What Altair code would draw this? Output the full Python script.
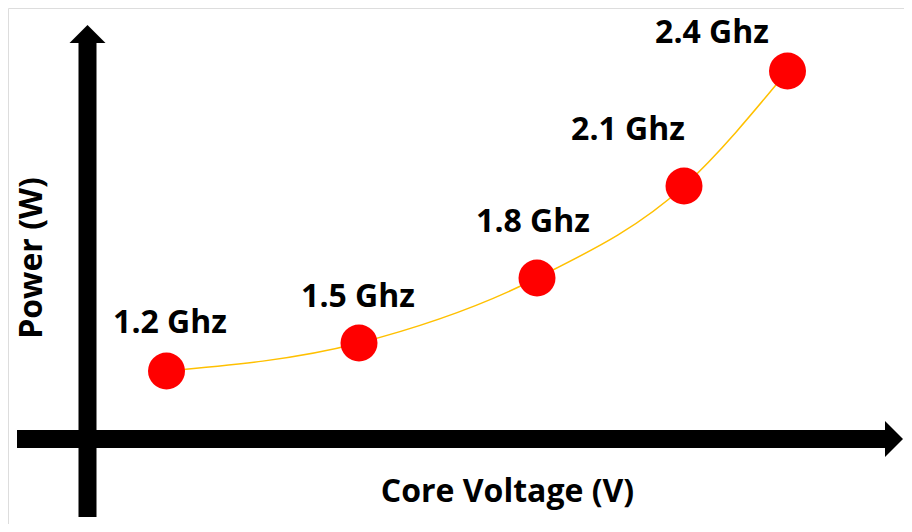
import altair as alt
import pandas as pd

# data (arbitrary units; origin at axis crossing)
voltage = [0.79, 2.715, 4.495, 5.965, 7.0]
power = [0.68, 0.96, 1.61, 2.53, 3.68]
freq_labels = ["1.2 Ghz", "1.5 Ghz", "1.8 Ghz", "2.1 Ghz", "2.4 Ghz"]
label_v = [0.825, 2.705, 4.455, 5.405, 6.245]
label_p = [1.06, 1.32, 2.07, 2.99, 3.96]

x_title = "Core Voltage (V)"
y_title = "Power (W)"

X_DOMAIN = [-0.795, 8.165]
Y_DOMAIN = [-0.85, 4.31]

pts = pd.DataFrame({"v": voltage, "p": power})
lbl = pd.DataFrame({"v": label_v, "p": label_p, "t": freq_labels})

xs = alt.Scale(domain=X_DOMAIN, nice=False, zero=False)
ys = alt.Scale(domain=Y_DOMAIN, nice=False, zero=False)
X = lambda f: alt.X(f, type="quantitative", scale=xs, axis=None)
Y = lambda f: alt.Y(f, type="quantitative", scale=ys, axis=None)

FONT = "Open Sans"
FS = 32

# axes shafts
vshaft = alt.Chart(pd.DataFrame({"v": [0], "p": [-0.78], "p2": [3.965]})).mark_rule(
    color="black", strokeWidth=18).encode(x=X("v"), y=Y("p"), y2="p2")
hshaft = alt.Chart(pd.DataFrame({"v": [-0.705], "v2": [7.99], "p": [0]})).mark_rule(
    color="black", strokeWidth=18).encode(x=X("v"), x2="v2", y=Y("p"))

up_head = alt.Chart(pd.DataFrame({"v": [0], "p": [4.05]})).mark_point(
    shape="M-1,0.5L0,-0.5L1,0.5Z", size=1296, filled=True, color="black", opacity=1
).encode(x=X("v"), y=Y("p"))
right_head = alt.Chart(pd.DataFrame({"v": [8.065], "p": [0]})).mark_point(
    shape="M-0.5,-1L0.5,0L-0.5,1Z", size=1296, filled=True, color="black", opacity=1
).encode(x=X("v"), y=Y("p"))

curve = alt.Chart(pts).mark_line(color="#FFC000", strokeWidth=1.5, interpolate="monotone").encode(
    x=X("v"), y=Y("p"))
dots = alt.Chart(pts).mark_point(shape="circle", size=1369, filled=True, color="#FF0000", opacity=1).encode(
    x=X("v"), y=Y("p"))

labels = alt.Chart(lbl).mark_text(font=FONT, fontSize=FS, fontWeight="bold", color="black",
                                  align="center", baseline="alphabetic").encode(
    x=X("v"), y=Y("p"), text="t:N")

xt = alt.Chart(pd.DataFrame({"v": [4.2], "p": [-0.63], "t": [x_title]})).mark_text(
    font=FONT, fontSize=FS, fontWeight="bold", color="black", align="center", baseline="alphabetic"
).encode(x=X("v"), y=Y("p"), text="t:N")
yt = alt.Chart(pd.DataFrame({"v": [-0.455], "p": [1.81], "t": [y_title]})).mark_text(
    font=FONT, fontSize=FS, fontWeight="bold", color="black", align="center", baseline="alphabetic", angle=270
).encode(x=X("v"), y=Y("p"), text="t:N")

chart = alt.layer(vshaft, hshaft, up_head, right_head, curve, dots, labels, xt, yt).properties(
    width=896, height=516, padding=0, autosize=alt.AutoSizeParams(type="none")
).configure_view(stroke=None).configure(background="white")

chart.save("out.html", embed_options={"renderer": "svg", "actions": False})
